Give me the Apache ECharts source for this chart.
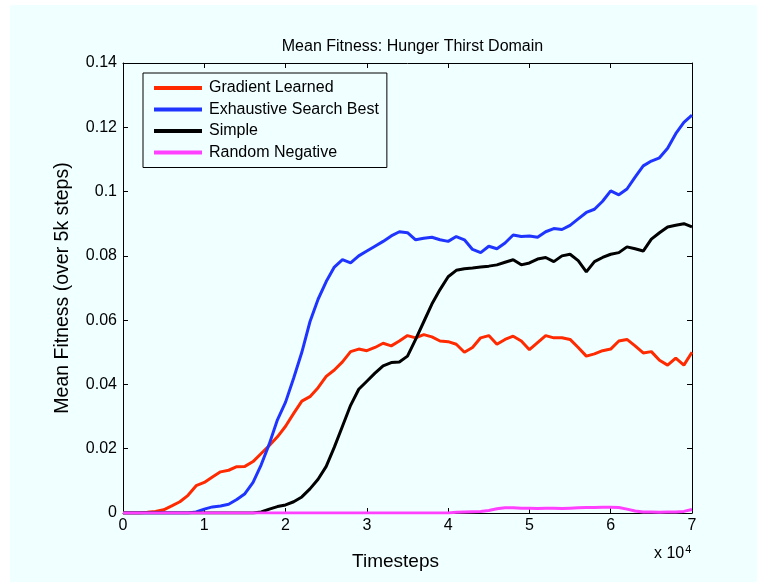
<!DOCTYPE html>
<html>
<head>
<meta charset="utf-8">
<script src="https://cdn.jsdelivr.net/npm/echarts@6/dist/echarts.min.js"></script>
<style>
  html, body { margin: 0; padding: 0; background: #ffffff; }
  #chart { width: 767px; height: 583px; }
</style>
</head>
<body>
<div id="chart"></div>
<script>
// Timesteps sampled every 1000 steps (0 .. 70000)
const timesteps = [];
for (let k = 0; k <= 70; k++) timesteps.push(k * 1000);

const seriesNames = ['Gradient Learned', 'Exhaustive Search Best', 'Simple', 'Random Negative'];

const gradientLearned = [
  0, 0, 0, 0.0002, 0.0005, 0.001, 0.0022, 0.0035, 0.0055, 0.0085,
  0.0095, 0.0112, 0.0128, 0.0133, 0.0144, 0.0145, 0.016, 0.0185, 0.021, 0.0237,
  0.027, 0.031, 0.0348, 0.0362, 0.039, 0.0425, 0.0445, 0.047, 0.0502, 0.051,
  0.0505, 0.0515, 0.0528, 0.052, 0.0535, 0.0552, 0.0545, 0.0555, 0.0548, 0.0535,
  0.0533, 0.0525, 0.05, 0.0515, 0.0545, 0.0552, 0.0525, 0.054, 0.055, 0.0535,
  0.0508, 0.053, 0.0552, 0.0545, 0.0545, 0.054, 0.0515, 0.0488, 0.0495, 0.0505,
  0.051, 0.0535, 0.054, 0.052, 0.0498, 0.0502, 0.0475, 0.046, 0.0482, 0.046,
  0.05
];

const exhaustiveBest = [
  0, 0, 0, 0, 0, 0, 0, 0, 0, 0.0003,
  0.0012, 0.0019, 0.0022, 0.0027, 0.0042, 0.006, 0.0095, 0.015, 0.0215, 0.029,
  0.0345, 0.042, 0.05, 0.0595, 0.0665, 0.072, 0.0765, 0.0788, 0.0778, 0.08,
  0.0815, 0.083, 0.0845, 0.0862, 0.0875, 0.0872, 0.085, 0.0855, 0.0858, 0.085,
  0.0845, 0.086, 0.085, 0.082, 0.081, 0.083, 0.0822, 0.084, 0.0865, 0.086,
  0.0862, 0.0858, 0.0875, 0.0885, 0.0882, 0.0895, 0.0915, 0.0935, 0.0945, 0.097,
  0.1002, 0.099, 0.1008, 0.1045, 0.108, 0.1095, 0.1105, 0.1135, 0.118, 0.1215,
  0.1238
];

const simple = [
  0, 0, 0, 0, 0, 0, 0, 0, 0, 0,
  0, 0, 0, 0, 0, 0, 0, 0.0003, 0.0012, 0.002,
  0.0025, 0.0035, 0.005, 0.0075, 0.0105, 0.0145, 0.0205, 0.027, 0.0335, 0.0385,
  0.041, 0.0435, 0.0458, 0.0468, 0.047, 0.0488, 0.054, 0.0595, 0.065, 0.0695,
  0.0735, 0.0755, 0.076, 0.0762, 0.0765, 0.0768, 0.0772, 0.078, 0.0788, 0.0772,
  0.0778, 0.079, 0.0795, 0.0782, 0.08, 0.0805, 0.0785, 0.075, 0.0782, 0.0795,
  0.0805, 0.081, 0.0828, 0.0822, 0.0815, 0.0852, 0.0872, 0.089, 0.0895, 0.09,
  0.089
];

const randomNegative = [
  0, 0, 0, 0, 0, 0, 0, 0, 0, 0,
  0, 0, 0, 0, 0, 0, 0, 0, 0, 0,
  0, 0, 0, 0, 0, 0, 0, 0, 0, 0,
  0, 0, 0, 0, 0, 0, 0, 0, 0, 0,
  0, 0.0002, 0.0003, 0.0004, 0.0005, 0.0008, 0.0013, 0.0016, 0.0016, 0.0015,
  0.0015, 0.0014, 0.0015, 0.0015, 0.0014, 0.0015, 0.0016, 0.0017, 0.0017, 0.0018,
  0.0018, 0.0017, 0.0012, 0.0006, 0.0003, 0.0003, 0.0002, 0.0003, 0.0003, 0.0005,
  0.0011
];

const xTickLabels = ['0', '1', '2', '3', '4', '5', '6', '7'];
const yTickLabels = ['0', '0.02', '0.04', '0.06', '0.08', '0.1', '0.12', '0.14'];

const colors = ['#ff2a00', '#1f35ff', '#000000', '#ff40ff'];
const values = [gradientLearned, exhaustiveBest, simple, randomNegative];
const FONT = 'Liberation Sans, Arial, Helvetica, sans-serif';
const BG = '#f0ffff';

const pairs = arr => arr.map((v, i) => [timesteps[i], v]);

const chart = echarts.init(document.getElementById('chart'), null, { renderer: 'canvas' });

// inward ticks on every side of the box
const tickStyle = () => ({ show: true, inside: true, length: 5, lineStyle: { color: '#000', width: 1 } });
const axisLineStyle = () => ({ show: true, onZero: false, lineStyle: { color: '#000', width: 1 } });

chart.setOption({
  animation: false,
  backgroundColor: '#ffffff',
  textStyle: { fontFamily: FONT },
  graphic: [
    {
      type: 'rect', z: -100, silent: true,
      shape: { x: 10, y: 5, width: 747, height: 577 },
      style: { fill: BG }
    },
    {
      type: 'text', left: 654, top: 544, silent: true,
      style: {
        text: '{b|x 10}{s|4}',
        rich: {
          b: { fontSize: 16, fontFamily: FONT, fill: '#000', verticalAlign: 'bottom', lineHeight: 18 },
          s: { fontSize: 11, fontFamily: FONT, fill: '#000', verticalAlign: 'top', lineHeight: 18, padding: [0, 0, 8, 1] }
        }
      }
    }
  ],
  title: {
    text: 'Mean Fitness: Hunger Thirst Domain',
    left: 407.5, textAlign: 'center', top: 34,
    textStyle: { fontSize: 16, fontWeight: 'normal', color: '#000', fontFamily: FONT }
  },
  legend: {
    data: seriesNames,
    orient: 'vertical',
    left: 143, top: 73,
    padding: [7, 8, 7, 11],
    itemGap: 5.5,
    itemWidth: 48, itemHeight: 4,
    icon: 'rect',
    backgroundColor: BG,
    borderColor: '#000', borderWidth: 1,
    textStyle: { fontSize: 16, color: '#000', fontFamily: FONT, lineHeight: 16, padding: [0, 0, 0, 2] }
  },
  grid: { left: 123, right: 75, top: 63, bottom: 70, show: false },
  xAxis: [
    {
      type: 'value', min: 0, max: 70000, interval: 10000,
      position: 'bottom',
      name: 'Timesteps', nameLocation: 'middle', nameGap: 39,
      nameTextStyle: { fontSize: 19, color: '#000', fontFamily: FONT, padding: [0, 24, 0, 0] },
      axisLine: axisLineStyle(),
      axisTick: tickStyle(),
      axisLabel: { margin: 5, fontSize: 16, color: '#000', fontFamily: FONT,
        formatter: v => xTickLabels[Math.round(v / 10000)] },
      splitLine: { show: false }
    },
    {
      type: 'value', min: 0, max: 70000, interval: 10000,
      position: 'top',
      axisLine: axisLineStyle(),
      axisTick: tickStyle(),
      axisLabel: { show: false },
      splitLine: { show: false }
    }
  ],
  yAxis: [
    {
      type: 'value', min: 0, max: 0.14, interval: 0.02,
      position: 'left',
      name: 'Mean Fitness (over 5k steps)', nameLocation: 'middle', nameGap: 50,
      nameTextStyle: { fontSize: 19.5, color: '#000', fontFamily: FONT },
      axisLine: axisLineStyle(),
      axisTick: tickStyle(),
      axisLabel: { margin: 6, fontSize: 16, color: '#000', fontFamily: FONT,
        formatter: v => yTickLabels[Math.round(v / 0.02)] },
      splitLine: { show: false }
    },
    {
      type: 'value', min: 0, max: 0.14, interval: 0.02,
      position: 'right',
      axisLine: axisLineStyle(),
      axisTick: tickStyle(),
      axisLabel: { show: false },
      splitLine: { show: false }
    }
  ],
  series: seriesNames.map((name, i) => ({
    name,
    type: 'line',
    data: pairs(values[i]),
    xAxisIndex: 0, yAxisIndex: 0,
    showSymbol: false,
    symbol: 'none',
    color: colors[i],
    lineStyle: { color: colors[i], width: 3 },
    clip: true,
    z: 3 + i
  }))
});
</script>
</body>
</html>
